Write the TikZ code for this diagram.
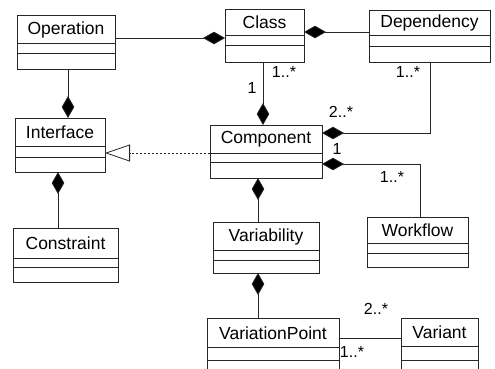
\documentclass[tikz,border=0pt]{standalone}
\usepackage{fontspec}
\setmainfont{Liberation Sans}
\usetikzlibrary{arrows.meta}

\tikzset{
  umlbox/.style={draw=black!85, line width=0.8pt, inner sep=0pt, outer sep=0pt},
  umlline/.style={draw=black!85, line width=0.8pt},
  umltitle/.style={inner sep=0pt, font=\fontsize{17.5}{20}\selectfont},
  mult/.style={inner sep=0pt, font=\fontsize{16}{18}\selectfont},
  compose/.style={umlline, -{Diamond[length=22pt,width=12.5pt,fill=black]}},
  realize/.style={umlline, dash pattern=on 2pt off 2pt, -{Triangle[open,length=25pt,width=17pt,fill=white]}},
  assoc/.style={umlline},
}

% class box: name, left, top, right, bottom, divider 1, divider 2, title
\newcommand\umlclass[8]{%
  \node[umlbox, anchor=north west,
        minimum width={(#4-#2)*1pt}, minimum height={(#5-#3)*1pt}] (#1) at (#2,#3) {};
  \draw[umlline] (#2,#6) -- (#4,#6) (#2,#7) -- (#4,#7);
  \node[umltitle] (#1-title) at ({(#2+#4)/2},{(#3+#6)/2+0.5}) {#8};
}

\begin{document}
\begin{tikzpicture}[x=1pt, y=-1pt]
  \useasboundingbox (0,0) rectangle (495,368);

  \umlclass{op}{17}{15}{115}{69}{43}{53}{Operation}
  \umlclass{cls}{225}{9}{304}{62}{35}{45}{Class}
  \umlclass{dep}{369}{10}{490}{62}{35}{46}{Dependency}
  \umlclass{iface}{15}{118}{105}{172}{146}{157}{Interface}
  \umlclass{comp}{210}{125}{322}{178}{153}{162}{Component}
  \umlclass{con}{13}{228}{118}{282}{258}{267}{Constraint}
  \umlclass{wf}{367}{217}{468}{267}{243}{253}{Workflow}
  \umlclass{var}{213}{222}{319}{273}{250}{260}{Variability}
  \umlclass{vp}{207}{318}{339}{380}{347}{360}{VariationPoint}
  \umlclass{vt}{401}{318}{478}{380}{346}{360}{Variant}

  % bend points
  \coordinate (depbend) at (430,133);
  \coordinate (wfbend) at (420,164);

  % compositions
  \draw[compose] (op.east |- 0,38) -- (cls.west |- 0,38);
  \draw[compose] (dep.west |- 0,32) -- (cls.east |- 0,32);
  \draw[compose] (cls.south -| 263,0) -- (comp.north -| 263,0);
  \draw[compose] (dep.south -| depbend) -- (depbend) -- (comp.east |- depbend);
  \draw[compose] (wf.north -| wfbend) -- (wfbend) -- (comp.east |- wfbend);
  \draw[compose] (op.south -| 68,0) -- (iface.north -| 68,0);
  \draw[compose] (con.north -| 58,0) -- (iface.south -| 58,0);
  \draw[compose] (var.north -| 258,0) -- (comp.south -| 258,0);
  \draw[compose] (vp.north -| 258,0) -- (var.south -| 258,0);

  % realization
  \draw[realize] (comp.west |- 0,153) -- (iface.east |- 0,153);

  % association
  \draw[assoc] (vp.east |- 0,338) -- (vt.west |- 0,338);

  % multiplicities
  \node[mult] (m1) at (252,88) {1};
  \node[mult] (m2) at (284,72) {1..*};
  \node[mult] (m3) at (408,72) {1..*};
  \node[mult] (m4) at (341,112) {2..*};
  \node[mult] (m5) at (337,149) {1};
  \node[mult] (m6) at (392,177) {1..*};
  \node[mult] (m7) at (376,309) {2..*};
  \node[mult] (m8) at (352,352) {1..*};
\end{tikzpicture}
\end{document}
